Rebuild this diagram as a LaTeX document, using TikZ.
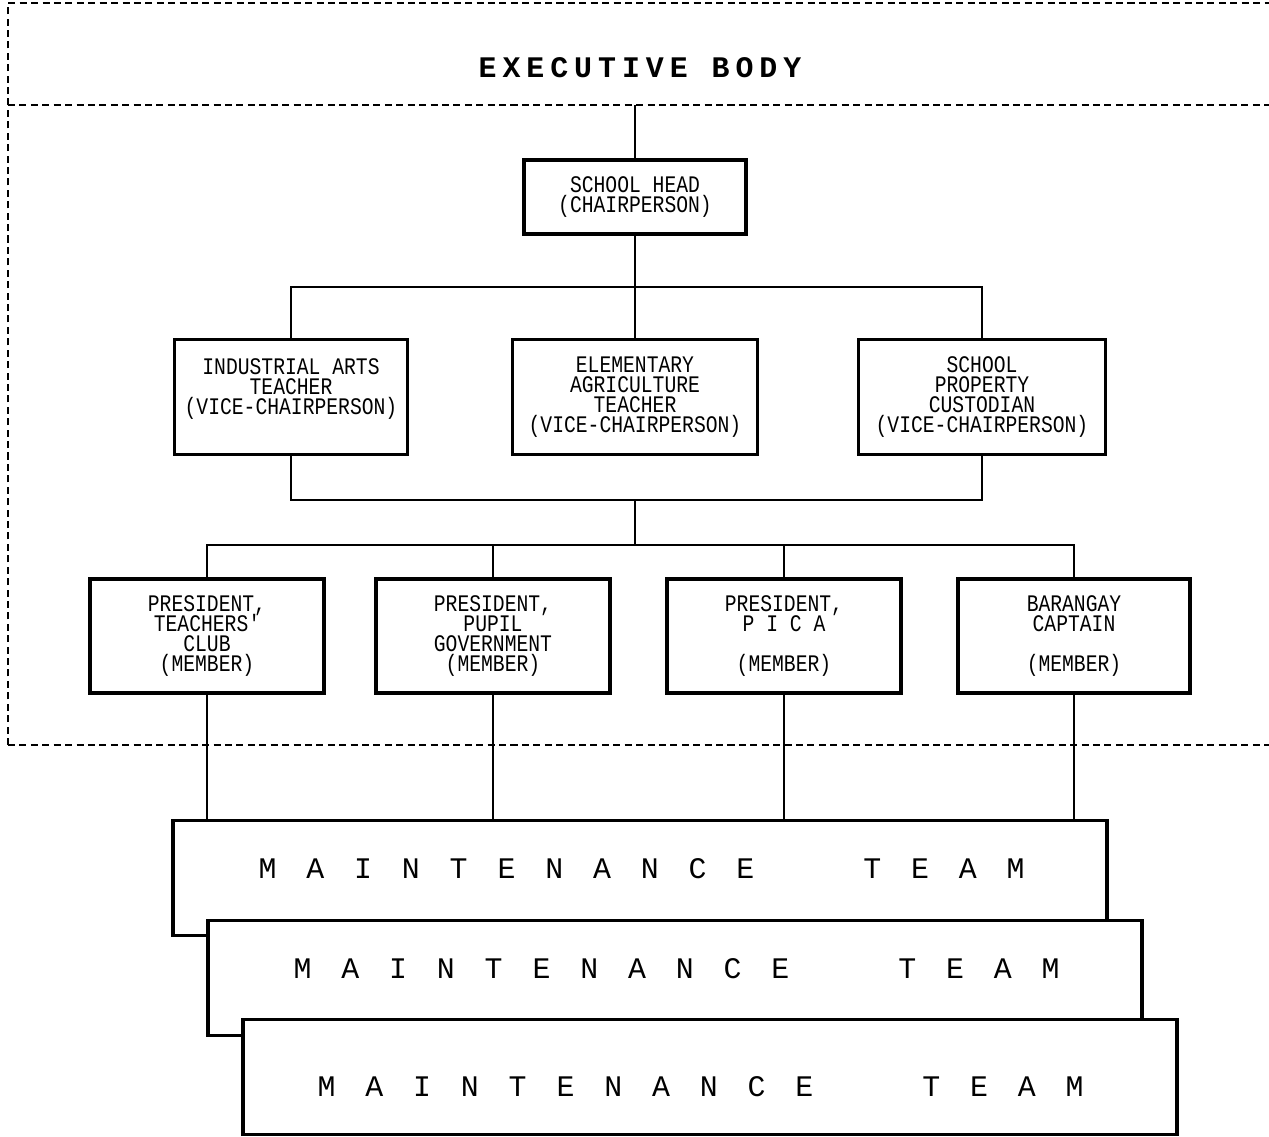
\documentclass[tikz,border=0pt]{standalone}
\usepackage{fontspec}
\newfontfamily\chartfont[FakeStretch=0.83]{Liberation Mono}
\newfontfamily\titlefont[LetterSpace=20]{Liberation Mono}
\newfontfamily\teamfont[LetterSpace=100]{Liberation Mono}
\newcommand\boxfont{\chartfont\fontsize{13.5}{11.4}\selectfont\lineskiplimit=-20pt\relax}
\begin{document}
\begin{tikzpicture}[x=0.02cm, y=-0.02cm,
    postbox/.style={draw, line width=2.2pt, fill=white, align=center, inner sep=0pt,
      font=\boxfont},
    teambox/.style={draw, line width=2.2pt, fill=white, inner sep=0pt,
      minimum width=18.7cm, minimum height=2.3cm, text width=15.26cm, align=left,
      font=\teamfont\fontsize{17}{20}\selectfont},
    wire/.style={line width=0.7pt},
    bodyline/.style={line width=1.1pt, dash pattern=on 4pt off 2.5pt}]
      \useasboundingbox (0,0) rectangle (1269,1137);
      % executive body frame
      \draw[bodyline] (8,745) -- (8,3) -- (1290,3);
      \draw[bodyline] (8,105) -- (1290,105);
      \draw[bodyline] (8,745) -- (1290,745);
      \node[font=\titlefont\bfseries\fontsize{17}{18}\selectfont] (title) at (640,68) {EXECUTIVE BODY};
      \draw
        (635,197) node[postbox, minimum width=4.44cm, minimum height=1.48cm] (head)
          {SCHOOL HEAD\\(CHAIRPERSON)}
        (291,397) node[postbox, minimum width=4.66cm, minimum height=2.3cm] (ind)
          {INDUSTRIAL ARTS\\TEACHER\\(VICE-CHAIRPERSON)\\~}
        (635,397) node[postbox, minimum width=4.9cm, minimum height=2.3cm] (agr)
          {ELEMENTARY\\AGRICULTURE\\TEACHER\\(VICE-CHAIRPERSON)}
        (982,397) node[postbox, minimum width=4.94cm, minimum height=2.3cm] (spc)
          {SCHOOL\\PROPERTY\\CUSTODIAN\\(VICE-CHAIRPERSON)}
        (207,636) node[postbox, minimum width=4.68cm, minimum height=2.28cm] (tc)
          {PRESIDENT,\\TEACHERS'\\CLUB\\(MEMBER)}
        (493,636) node[postbox, minimum width=4.68cm, minimum height=2.28cm] (pg)
          {PRESIDENT,\\PUPIL\\GOVERNMENT\\(MEMBER)}
        (784,636) node[postbox, minimum width=4.68cm, minimum height=2.28cm] (pica)
          {PRESIDENT,\\P I C A\\~\\(MEMBER)}
        (1074,636) node[postbox, minimum width=4.64cm, minimum height=2.28cm] (brgy)
          {BARANGAY\\CAPTAIN\\~\\(MEMBER)};
      \coordinate (top) at (635,105);
      \coordinate (bus1) at (635,287);
      \coordinate (bus2) at (635,500);
      \coordinate (bus3) at (635,545);
      % maintenance teams
      \node[teambox, text height=0.3cm, text depth=0.3cm] (team1) at (640,878)
        {\mbox{MAINTENANCE\hspace{62pt}TEAM}};
      \node[teambox, text height=0.3cm, text depth=0.3cm] (team2) at (675,978)
        {\mbox{MAINTENANCE\hspace{62pt}TEAM}};
      \node[teambox, text width=15.7cm, text height=0.76cm, text depth=0cm] (team3) at (710,1077)
        {\mbox{MAINTENANCE\hspace{62pt}TEAM}};
      \begin{scope}[wire]
        \draw (top) to (head.north);
        \draw (head.south) to (bus1);
        \draw (bus1) to (agr.north);
        \draw (ind.north) |- (bus1) -| (spc.north);
        \draw (ind.south) |- (bus2) -| (spc.south);
        \draw (bus2) to (bus3);
        \draw (tc.north) |- (bus3) -| (brgy.north);
        \draw (pg.north) to (pg.north |- bus3);
        \draw (pica.north) to (pica.north |- bus3);
        \draw (tc.south) to (tc.south |- team1.north);
        \draw (pg.south) to (pg.south |- team1.north);
        \draw (pica.south) to (pica.south |- team1.north);
        \draw (brgy.south) to (brgy.south |- team1.north);
      \end{scope}
    \end{tikzpicture}
\end{document}
